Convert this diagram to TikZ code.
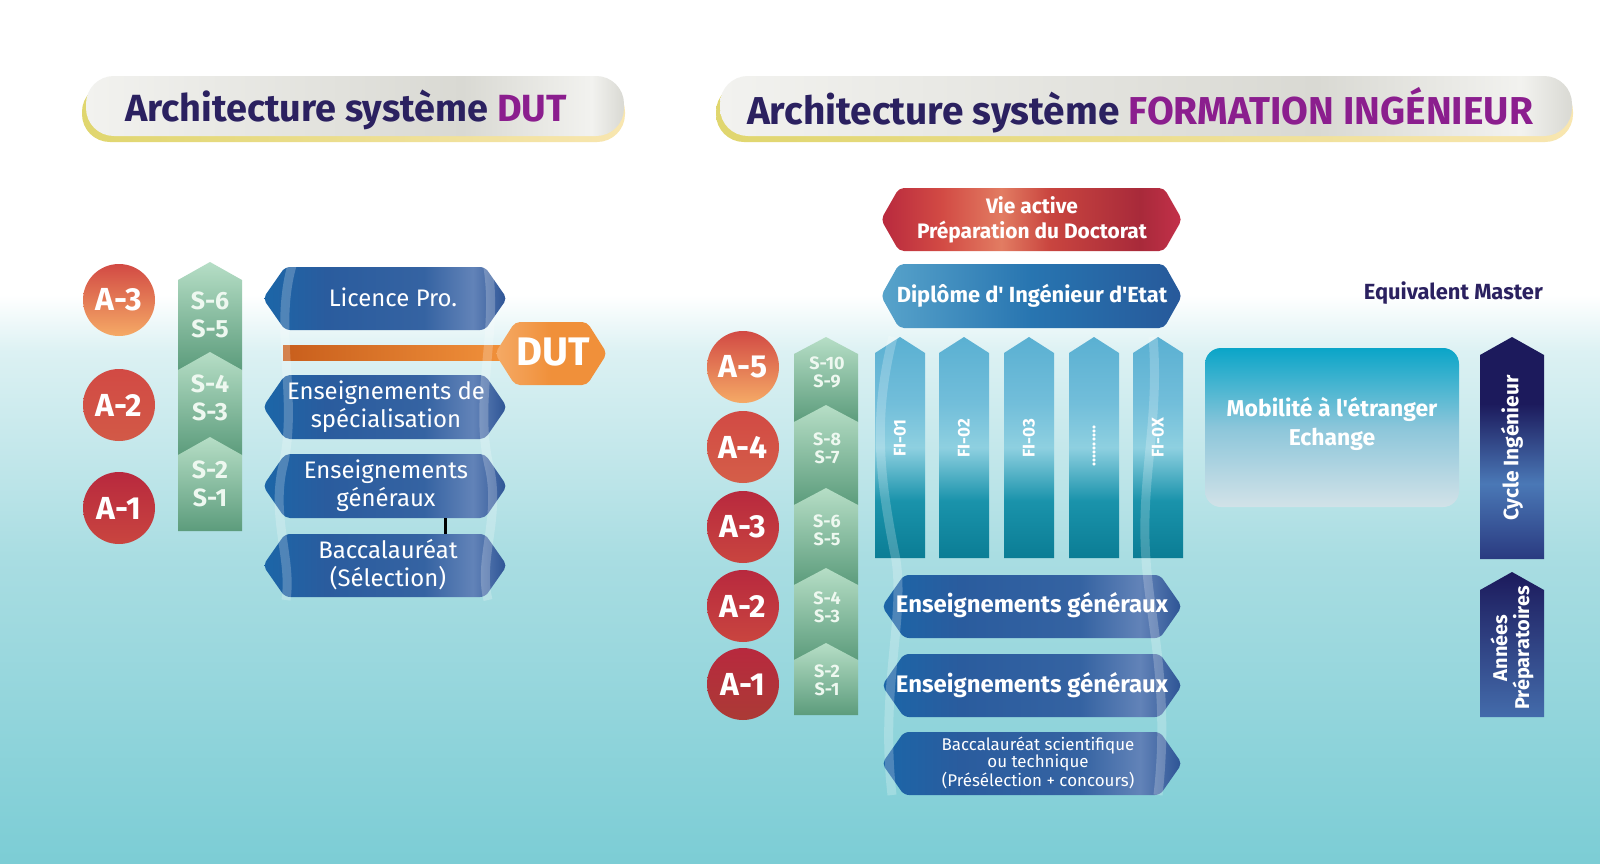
\documentclass[tikz,border=0pt]{standalone}
\usepackage{fontspec}
\setmainfont{Fira Sans}[Ligatures=TeXOff]
\usetikzlibrary{calc}
\definecolor{navy}{HTML}{2B2160}
\definecolor{purp}{HTML}{8B1E8E}
\definecolor{bgA}{HTML}{DCF1F3}
\definecolor{bgB}{HTML}{A9DDE2}
\definecolor{bgC}{HTML}{7CCDD5}
\definecolor{bbA}{HTML}{1B66A8}
\definecolor{bbB}{HTML}{2A5C9E}
\definecolor{bbC}{HTML}{3563A2}
\definecolor{bbD}{HTML}{6283B8}
\definecolor{bbE}{HTML}{2C5394}
\definecolor{rdA}{HTML}{B8293E}
\definecolor{rdB}{HTML}{D24A44}
\definecolor{rdC}{HTML}{E27C62}
\definecolor{rdD}{HTML}{C9453F}
\definecolor{rdE}{HTML}{A82A3A}
\definecolor{rdF}{HTML}{C4304A}
\definecolor{fiA}{HTML}{0B7D95}
\definecolor{fiB}{HTML}{1A93AB}
\definecolor{fiC}{HTML}{8ED0E0}
\definecolor{fiD}{HTML}{72BEDA}
\definecolor{fiE}{HTML}{5AB0D2}
\definecolor{gtop}{HTML}{B6DEC6}
\definecolor{gbot}{HTML}{5C9C7C}
\definecolor{gtxt}{HTML}{EEF8F0}
\definecolor{orA}{HTML}{C85E1C}
\definecolor{orB}{HTML}{F0903A}
\definecolor{orC}{HTML}{F5AA66}
\definecolor{cyA}{HTML}{1C1A5C}
\definecolor{cyB}{HTML}{4A78B6}
\definecolor{cyC}{HTML}{2A3A80}
\definecolor{grA}{HTML}{F2F2EF}
\definecolor{grB}{HTML}{D9D9D3}
\definecolor{ylA}{HTML}{E0D66E}
\definecolor{ylB}{HTML}{F8E6B0}
\definecolor{mobA}{HTML}{0AA5C8}
\definecolor{mobB}{HTML}{8CC6DA}
\definecolor{mobC}{HTML}{D2E2E8}
\pgfdeclareverticalshading{bgshade}{100bp}{color(0bp)=(bgC); color(25bp)=(bgC); color(52bp)=(bgB); color(70bp)=(bgA); color(75bp)=(white); color(100bp)=(white)}
\pgfdeclarehorizontalshading{bluebox}{100bp}{color(0bp)=(bbA); color(25bp)=(bbA); color(38bp)=(bbB); color(58bp)=(bbC); color(68bp)=(bbD); color(75bp)=(bbE); color(100bp)=(bbE)}
\pgfdeclarehorizontalshading{redbox}{100bp}{color(0bp)=(rdA); color(25bp)=(rdA); color(35bp)=(rdB); color(45bp)=(rdC); color(53bp)=(rdD); color(68bp)=(rdE); color(75bp)=(rdF); color(100bp)=(rdF)}
\pgfdeclareverticalshading{fishade}{100bp}{color(0bp)=(fiA); color(25bp)=(fiA); color(38bp)=(fiB); color(50bp)=(fiC); color(60bp)=(fiD); color(75bp)=(fiE); color(100bp)=(fiE)}
\pgfdeclareverticalshading{cyshade}{100bp}{color(0bp)=(cyC); color(25bp)=(cyC); color(42bp)=(cyB); color(60bp)=(cyA); color(75bp)=(cyA); color(100bp)=(cyA)}
\pgfdeclarehorizontalshading{grayshade}{100bp}{color(0bp)=(grA); color(25bp)=(grA); color(60bp)=(grB); color(72bp)=(grA); color(75bp)=(grB); color(100bp)=(grB)}
\newcommand\fsz[1]{\fontsize{#1}{#1}\selectfont}
\newcommand\hexshape[6]{% style, x0, y0, x1, y1, indent
  \path[#1, rounded corners=5] (#2,{(#3+#5)/2}) -- (#2+#6,#3) -- (#4-#6,#3) -- (#4,{(#3+#5)/2}) -- (#4-#6,#5) -- (#2+#6,#5) -- cycle;}
\newcommand\arrowup[6]{% style, x0, x1, tip, drop, bottom
  \path[#1] (#2,#6) -- (#2,#4+#5) -- ({(#2+#3)/2},#4) -- (#3,#4+#5) -- (#3,#6) -- cycle;}
\tikzset{
  txt/.style={text=white, align=center, inner sep=0pt},
  circ/.style={circle, minimum size=72bp, inner sep=0pt, text=white, font=\fsz{32}\bfseries},
  wave/.style={white, opacity=0.22, line width=9bp},
}
\begin{document}
\begin{tikzpicture}[x=1bp,y=-1bp]
\useasboundingbox (0,0) rectangle (1600,863);
% background
\fill[white] (0,0) rectangle (1600,863);
\shade[shading=bgshade] (0,295) rectangle (1600,863);

% ---------- title banners ----------
\shade[rounded corners=28, left color=ylA, right color=ylB] (82,84) rectangle (625,142);
\shade[rounded corners=28, shading=grayshade] (86,76) rectangle (624,136);
\node[inner sep=0pt, text=navy, font=\fsz{38}\bfseries] (t1) at (346,110) {Architecture système \textcolor{purp}{DUT}};

\shade[rounded corners=28, left color=ylA, right color=ylB] (716,84) rectangle (1573,142);
\shade[rounded corners=28, shading=grayshade] (720,76) rectangle (1572,136);
\node[inner sep=0pt, text=navy, font=\fsz{39}\bfseries] (t2) at (1140,110) {Architecture système \textcolor{purp}{FORMATION INGÉNIEUR}};

% ---------- LEFT: DUT ----------
\node[circ, top color=rdB, bottom color=orC] (la3) at (119,300) {A-3};
\node[circ, top color=rdB, bottom color=rdD!80!orC] (la2) at (119,405) {A-2};
\node[circ, top color=rdA, bottom color=rdD] (la1) at (119,508) {A-1};

\arrowup{top color=gtop, bottom color=gbot}{178}{242}{262}{18}{370}
\arrowup{top color=gtop, bottom color=gbot}{178}{242}{352}{18}{455}
\arrowup{top color=gtop, bottom color=gbot}{178}{242}{437}{18}{531}
\node[txt, text=gtxt, font=\fontsize{25}{28}\selectfont\bfseries] (ls3) at (210,315) {S-6\\S-5};
\node[txt, text=gtxt, font=\fontsize{25}{28}\selectfont\bfseries] (ls2) at (210,398) {S-4\\S-3};
\node[txt, text=gtxt, font=\fontsize{25}{28}\selectfont\bfseries] (ls1) at (210,484) {S-2\\S-1};

\shade[left color=orA, right color=orB] (283,345) rectangle (500,360);
\hexshape{shading=bluebox}{263}{267}{507}{330}{22}
\hexshape{shading=bluebox}{263}{375}{507}{439}{22}
\hexshape{shading=bluebox}{263}{454}{507}{518}{22}
\hexshape{shading=bluebox}{263}{534}{507}{597}{22}
\hexshape{left color=orC, right color=orB, middle color=orB}{495}{322}{607}{385}{20}
\node[txt, font=\fsz{40}\bfseries] (dut) at (553,352) {DUT};
\node[txt, font=\fsz{24}] (lic) at (393,297) {Licence Pro.};
\node[txt, font=\fontsize{24}{28}\selectfont] (spec) at (386,407) {Enseignements de\\spécialisation};
\node[txt, font=\fontsize{24}{28}\selectfont] (gen) at (386,486) {Enseignements\\généraux};
\node[txt, font=\fontsize{24}{28}\selectfont] (bac) at (388,565) {Baccalauréat\\(Sélection)};
\coordinate (bl1) at (445,518);
\coordinate (bl2) at (445,534);
\draw[line width=3bp, black] (bl1) -- (bl2);
\draw[wave] (293,262) .. controls (272,330) and (300,400) .. (282,470) .. controls (272,520) and (292,560) .. (286,600);
\draw[wave] (487,262) .. controls (500,330) and (472,400) .. (490,470) .. controls (500,520) and (478,560) .. (488,600);

% ---------- RIGHT: Formation ingenieur ----------
\hexshape{shading=redbox}{881}{188}{1182}{251}{18}
\node[txt, font=\fontsize{21}{25}\selectfont\bfseries] (vie) at (1032,220) {Vie active\\Préparation du Doctorat};
\hexshape{left color=fiD!70!bbA, right color=bbE!70!bbA, middle color=bbA!80!fiE}{881}{264}{1182}{328}{18}
\node[txt, font=\fsz{22}\bfseries] (dip) at (1032,296) {Diplôme d' Ingénieur d'Etat};

\node[circ, top color=rdB, bottom color=orC] (ra5) at (743,367) {A-5};
\node[circ, top color=rdB, bottom color=rdD!75!orC] (ra4) at (743,447) {A-4};
\node[circ, top color=rdA, bottom color=rdD] (ra3) at (743,527) {A-3};
\node[circ, top color=rdA, bottom color=rdD] (ra2) at (743,606) {A-2};
\node[circ, top color=rdA, bottom color=rdD!85!black] (ra1) at (743,684) {A-1};

\arrowup{top color=gtop, bottom color=gbot}{794}{858}{337}{17}{422}
\arrowup{top color=gtop, bottom color=gbot}{794}{858}{405}{17}{505}
\arrowup{top color=gtop, bottom color=gbot}{794}{858}{488}{17}{585}
\arrowup{top color=gtop, bottom color=gbot}{794}{858}{568}{17}{660}
\arrowup{top color=gtop, bottom color=gbot}{794}{858}{643}{17}{715}
\node[txt, text=gtxt, font=\fontsize{18}{18}\selectfont\bfseries] (rs5) at (827,372) {S-10\\S-9};
\node[txt, text=gtxt, font=\fontsize{18}{18}\selectfont\bfseries] (rs4) at (827,448) {S-8\\S-7};
\node[txt, text=gtxt, font=\fontsize{18}{18}\selectfont\bfseries] (rs3) at (827,530) {S-6\\S-5};
\node[txt, text=gtxt, font=\fontsize{18}{18}\selectfont\bfseries] (rs2) at (827,607) {S-4\\S-3};
\node[txt, text=gtxt, font=\fontsize{18}{18}\selectfont\bfseries] (rs1) at (827,680) {S-2\\S-1};

\arrowup{shading=fishade}{875}{925}{337}{16}{558}
\arrowup{shading=fishade}{939}{989}{337}{16}{558}
\arrowup{shading=fishade}{1004}{1054}{337}{16}{558}
\arrowup{shading=fishade}{1069}{1119}{337}{16}{558}
\arrowup{shading=fishade}{1133}{1183}{337}{16}{558}
\node[txt, rotate=90, font=\fsz{17}\bfseries] (fi1) at (900,438) {FI-01};
\node[txt, rotate=90, font=\fsz{17}\bfseries] (fi2) at (964,438) {FI-02};
\node[txt, rotate=90, font=\fsz{17}\bfseries] (fi3) at (1029,438) {FI-03};
\node[txt, rotate=90, font=\fsz{17}\bfseries] (fi4) at (1094,446) {..........};
\node[txt, rotate=90, font=\fsz{17}\bfseries] (fi5) at (1158,438) {FI-0X};

\hexshape{shading=bluebox}{882}{575}{1182}{638}{22}
\hexshape{shading=bluebox}{882}{654}{1182}{717}{22}
\hexshape{shading=bluebox}{882}{732}{1182}{795}{22}
\node[txt, font=\fsz{24}\bfseries] (rg2) at (1032,605) {Enseignements généraux};
\node[txt, font=\fsz{24}\bfseries] (rg1) at (1032,685) {Enseignements généraux};
\node[txt, font=\fontsize{17}{17.5}\selectfont] (rbac) at (1038,763) {Baccalauréat scientifique\\ou technique\\(Présélection + concours)};
\draw[wave] (893,337) .. controls (872,420) and (880,480) .. (896,560) .. controls (905,620) and (880,690) .. (892,795);
\draw[wave] (1153,337) .. controls (1160,420) and (1140,480) .. (1146,560) .. controls (1150,620) and (1170,690) .. (1158,795);

\shade[rounded corners=16, top color=mobA, bottom color=mobC, middle color=mobB] (1205,348) rectangle (1459,507);
\node[txt, font=\fontsize{23}{29}\selectfont\bfseries] (mob) at (1332,424) {Mobilité à l'étranger\\Echange};

\node[inner sep=0pt, anchor=east, text=navy, font=\fsz{22}\bfseries] (eqm) at (1543,293) {Equivalent Master};

\arrowup{shading=cyshade}{1480}{1544}{337}{18}{559}
\node[txt, rotate=90, font=\fsz{21}\bfseries] (cyc) at (1512,448) {Cycle Ingénieur};
\arrowup{top color=cyA, bottom color=cyB!80!cyC}{1480}{1544}{572}{18}{717}
\node[txt, rotate=90, font=\fontsize{20}{22}\selectfont\bfseries] (prep) at (1512,648) {Années\\Préparatoires};
\end{tikzpicture}
\end{document}
